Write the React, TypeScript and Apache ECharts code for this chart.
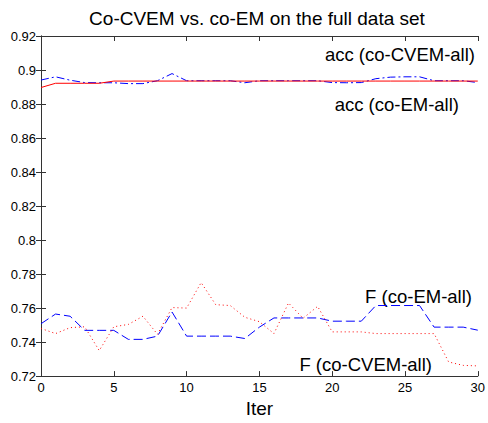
import React, { useEffect, useRef } from "react";
import * as echarts from "echarts";

const iters = [0,1,2,3,4,5,6,7,8,9,10,11,12,13,14,15,16,17,18,19,20,21,22,23,24,25,26,27,28,29,30];
const accCoCVEM = [0.8941,0.896,0.894,0.8926,0.8925,0.8925,0.892,0.892,0.8937,0.8979,0.8937,0.8937,0.8937,0.8937,0.8925,0.8937,0.8937,0.8937,0.8937,0.8937,0.8926,0.8925,0.8926,0.8949,0.8958,0.896,0.896,0.8937,0.8937,0.8937,0.8926];
const accCoEM = [0.8897,0.8922,0.8922,0.8922,0.8922,0.8935,0.8935,0.8935,0.8935,0.8935,0.8935,0.8935,0.8935,0.8935,0.8935,0.8935,0.8935,0.8935,0.8935,0.8935,0.8935,0.8935,0.8935,0.8935,0.8935,0.8935,0.8935,0.8935,0.8935,0.8935,0.8935];
const fCoEM = [0.7508,0.7565,0.7552,0.7469,0.7469,0.7469,0.7416,0.7416,0.7435,0.7577,0.7435,0.7435,0.7435,0.7435,0.7421,0.7488,0.7542,0.7542,0.7542,0.7542,0.7523,0.7523,0.7523,0.7615,0.7615,0.7615,0.7615,0.7488,0.7488,0.7488,0.747];
const fCoCVEM = [0.748,0.745,0.7485,0.749,0.735,0.749,0.7504,0.7552,0.7446,0.7603,0.760,0.775,0.762,0.7615,0.7546,0.752,0.745,0.763,0.754,0.761,0.746,0.746,0.746,0.745,0.745,0.745,0.745,0.745,0.7283,0.7263,0.726];

const titleText = "Co-CVEM vs. co-EM on the full data set";
const xName = "Iter";
const labelTexts = ["acc (co-CVEM-all)", "acc (co-EM-all)", "F (co-EM-all)", "F (co-CVEM-all)"];

export default function App() {
  const ref = useRef<HTMLDivElement>(null);
  useEffect(() => {
    if (!ref.current) return;
    const chart = echarts.init(ref.current, undefined, { renderer: "svg" });
    const font = "'Liberation Sans', Arial, sans-serif";
    const pair = (ys: number[]) => iters.map((x, i) => [x, ys[i]]);
    const axisLine = { show: true, lineStyle: { color: "#333", width: 1 } };
    const tick = { show: true, inside: true, length: 5, lineStyle: { color: "#333" } };
    const lbl = (text: string, x: number, y: number) => ({
      type: "text", x, y,
      style: { text, align: "right", verticalAlign: "middle", font: `18.5px ${font}`, fill: "#000" },
    });
    chart.setOption({
      animation: false,
      backgroundColor: "#fff",
      grid: { left: 41, right: 8, top: 36, bottom: 40 },
      xAxis: [
        {
          type: "value", min: 0, max: 30, interval: 5,
          name: xName, nameLocation: "middle", nameGap: 20,
          nameTextStyle: { fontFamily: font, fontSize: 19, color: "#000" },
          axisLine, axisTick: tick, splitLine: { show: false },
          axisLabel: { fontFamily: font, fontSize: 13, color: "#000", margin: 5 },
        },
        {
          type: "value", position: "top", min: 0, max: 30, interval: 5,
          axisLine, axisTick: tick, splitLine: { show: false }, axisLabel: { show: false },
        },
      ],
      yAxis: [
        {
          type: "value", min: 0.72, max: 0.92, interval: 0.02,
          axisLine, axisTick: tick, splitLine: { show: false },
          axisLabel: { fontFamily: font, fontSize: 13, color: "#000", margin: 5 },
        },
        {
          type: "value", position: "right", min: 0.72, max: 0.92, interval: 0.02,
          axisLine, axisTick: tick, splitLine: { show: false }, axisLabel: { show: false },
        },
      ],
      series: [
        { type: "line", data: pair(accCoCVEM), symbol: "none", lineStyle: { color: "#0000ff", width: 1, type: [8, 3, 2, 3] } },
        { type: "line", data: pair(accCoEM), symbol: "none", lineStyle: { color: "#ff0000", width: 1, type: "solid" } },
        { type: "line", data: pair(fCoEM), symbol: "none", lineStyle: { color: "#0000ff", width: 1, type: [9, 4] } },
        { type: "line", data: pair(fCoCVEM), symbol: "none", lineStyle: { color: "#ff0000", width: 1, type: [1, 3] } },
      ],
      graphic: [
        { type: "text", x: 257, y: 18, style: { text: titleText, align: "center", verticalAlign: "middle", font: `19px ${font}`, fill: "#000" } },
        lbl(labelTexts[0], 475, 54),
        lbl(labelTexts[1], 459, 104),
        lbl(labelTexts[2], 472, 296),
        lbl(labelTexts[3], 432, 364.5),
      ],
    });
    return () => chart.dispose();
  }, []);
  return <div ref={ref} style={{ width: 488, height: 423, position: "absolute", left: 0, top: 0 }} />;
}
